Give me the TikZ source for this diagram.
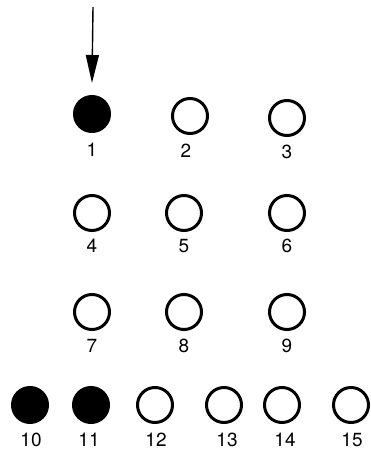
\documentclass[tikz,border=0pt]{standalone}
\usepackage{fontspec}
\setmainfont{TeX Gyre Heros}
\usetikzlibrary{arrows.meta}
\tikzset{
  every node/.style={font=\fontsize{19}{21}\selectfont},
  hole/.style={circle,draw=black,line width=3pt,minimum size=35pt,inner sep=0},
  peg/.style={hole,fill=black},
  num/.style={inner sep=0,anchor=center},
  arr/.style={-{Triangle[length=28pt,width=13pt]},line width=1.4pt}
}
\begin{document}
\begin{tikzpicture}[x=1pt,y=-1pt]
  \path[use as bounding box] (0,0) rectangle (370,452);
  % grid of holes, pegged ones filled
  \foreach \n/\x/\y/\s in {1/92/114/peg,2/190/116/hole,3/287/118/hole,
                           4/92/213/hole,5/184/213/hole,6/287/213/hole,
                           7/92/312/hole,8/184/312/hole,9/287/312/hole,
                           10/30/405/peg,11/91/405/peg,12/155/405/hole,
                           13/224/405/hole,14/282/405/hole,15/351/405/hole} {
    \node[\s] (c\n) at (\x,\y) {};
  }
  \foreach \n/\x/\y in {1/92/150,2/186/151,3/287/152,
                        4/92/246,5/184/246,6/287/246,
                        7/92/346,8/184/346,9/287/346,
                        10/31/440,11/89/440,12/156/440,
                        13/227/440,14/285/440,15/352/440} {
    \node[num] (n\n) at (\x,\y) {\n};
  }
  \coordinate (start) at (93,7);
  \draw[arr] (start) -- ([yshift=12pt]c1.north);
\end{tikzpicture}
\end{document}
